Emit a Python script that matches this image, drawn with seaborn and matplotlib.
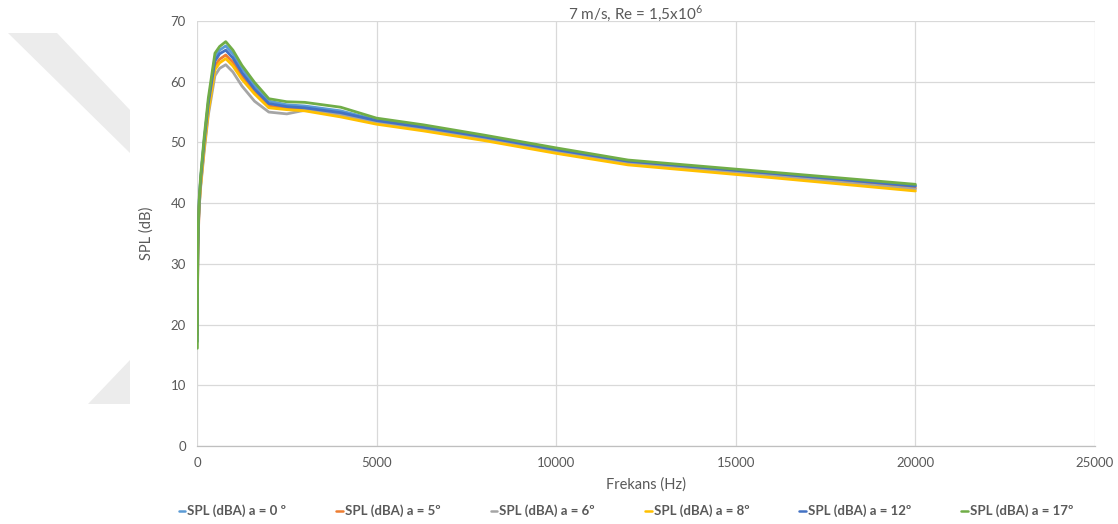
import numpy as np
import pandas as pd
import matplotlib
matplotlib.use("Agg")
import matplotlib.pyplot as plt
from matplotlib.patches import Polygon
from matplotlib.lines import Line2D
import seaborn as sns

# ---- data ----
freqs = [10, 16, 25, 40, 63, 100, 200, 315, 500, 630, 800, 1000, 1250, 1600,
         2000, 2500, 3000, 4000, 5000, 6300, 8000, 10000, 12000, 16000, 20000]

spl_0 = [25.2, 30, 34, 37.5, 40.5, 43.8, 50.3, 56.6, 64.0, 65.2, 65.9, 64.6, 62.2, 59.4,
         56.8, 56.2, 56.0, 55.2, 53.7, 52.6, 51.0, 48.9, 46.9, 44.9, 42.9]
spl_5 = [18.3, 26, 31.5, 35.5, 39.5, 43.0, 49.4, 55.6, 62.6, 63.7, 64.4, 63.2, 61.0, 58.4,
         56.0, 55.6, 55.4, 54.5, 53.3, 52.2, 50.6, 48.5, 46.6, 44.6, 42.5]
spl_6 = [24.0, 29, 33, 36.5, 39.5, 42.5, 48.5, 54.5, 61.0, 62.2, 62.8, 61.6, 59.3, 56.8,
         55.0, 54.7, 55.3, 54.5, 53.3, 52.2, 50.6, 48.5, 46.5, 44.5, 42.3]
spl_8 = [26.2, 30.5, 34, 37, 40, 42.8, 49.0, 55.0, 62.0, 63.1, 63.8, 62.6, 60.4, 58.0,
         55.7, 55.4, 55.2, 54.2, 53.0, 51.9, 50.3, 48.2, 46.3, 44.2, 42.0]
spl_12 = [17.2, 26.5, 32.5, 36.5, 40.5, 43.8, 50.2, 56.4, 63.4, 64.6, 65.2, 63.9, 61.5, 58.8,
          56.4, 55.9, 55.7, 54.9, 53.6, 52.5, 50.9, 48.8, 46.9, 44.9, 42.8]
spl_17 = [16.1, 27, 33, 37, 41, 44.4, 50.9, 57.3, 64.7, 65.8, 66.6, 65.2, 62.7, 59.9,
          57.2, 56.7, 56.6, 55.8, 54.0, 52.9, 51.2, 49.1, 47.1, 45.1, 43.1]

series_names = ["SPL (dBA) a = 0 º", "SPL (dBA) a = 5º", "SPL (dBA) a = 6º",
                "SPL (dBA) a = 8º", "SPL (dBA) a = 12º", "SPL (dBA) a = 17º"]
series_values = [spl_0, spl_5, spl_6, spl_8, spl_12, spl_17]
colors = ["#5B9BD5", "#ED7D31", "#A5A5A5", "#FFC000", "#4472C4", "#70AD47"]

x_ticks = [0, 5000, 10000, 15000, 20000, 25000]
y_ticks = [0, 10, 20, 30, 40, 50, 60, 70]

df = pd.DataFrame({
    "Frekans": np.tile(freqs, len(series_names)),
    "SPL": np.concatenate(series_values),
    "series": np.repeat(series_names, len(freqs)),
})

# ---- style ----
sns.set_theme(style="white")
plt.rcParams["font.family"] = ["Lato", "DejaVu Sans"]
plt.rcParams["mathtext.fontset"] = "custom"
plt.rcParams["mathtext.rm"] = "Lato"
text_col = "#595959"

W, H = 1118, 524
fig = plt.figure(figsize=(W / 100, H / 100), dpi=100)
ax = fig.add_axes([197 / W, 1 - 446 / H, (1095 - 197) / W, (446 - 21) / H])

# watermark shapes (background decoration)
wm1 = [(8, 33), (57, 33), (130, 110), (130, 153)]
wm2 = [(88, 404), (130, 404), (130, 360)]
for poly in (wm1, wm2):
    fig.patches.append(Polygon([(x / W, 1 - y / H) for x, y in poly], closed=True,
                               transform=fig.transFigure, facecolor="#ECECEC",
                               edgecolor="none", zorder=0))

sns.lineplot(data=df, x="Frekans", y="SPL", hue="series", hue_order=series_names,
             palette=colors, linewidth=2.0, ax=ax, legend=False, sort=False)

ax.set_xlim(0, 25000)
ax.set_ylim(0, 70)
ax.set_xticks(x_ticks)
ax.set_yticks(y_ticks)
ax.set_xticklabels([str(t) for t in x_ticks])
ax.set_yticklabels([str(t) for t in y_ticks])
ax.grid(True, color="#D9D9D9", linewidth=0.9)
ax.set_axisbelow(True)
for s in ["top", "right", "left"]:
    ax.spines[s].set_visible(False)
ax.spines["bottom"].set_color("#BFBFBF")
ax.spines["bottom"].set_linewidth(0.9)
ax.tick_params(axis="both", length=0, labelsize=9.5, colors=text_col, pad=8)

ax.set_xlabel("Frekans (Hz)", fontsize=10.5, color=text_col, labelpad=6)
ax.set_ylabel("SPL (dB)", fontsize=10.5, color=text_col, labelpad=12)

fig.text(635 / W, 1 - 13 / H, "7 m/s, Re = 1,5x10$^{6}$", ha="center", va="center",
         fontsize=11, color=text_col)

handles = [Line2D([0], [0], color=c, linewidth=1.8) for c in colors]
leg = fig.legend(handles, series_names, loc="center", bbox_to_anchor=(626 / W, 1 - 511 / H),
                 ncol=6, frameon=False, handlelength=0.5, handletextpad=0.15,
                 columnspacing=3.8, prop={"size": 9.5, "weight": "bold"})
for t in leg.get_texts():
    t.set_color(text_col)

fig.savefig("out.png", dpi=100)
